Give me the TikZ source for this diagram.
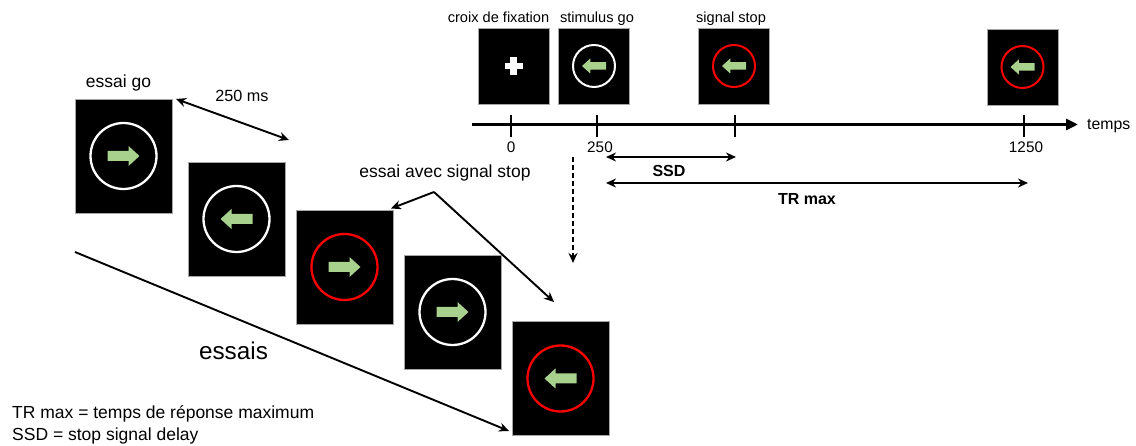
\documentclass[tikz,border=0pt]{standalone}
\usepackage{fontspec}
\setmainfont{Liberation Sans}
\usetikzlibrary{arrows.meta,calc}

\definecolor{arrowgreen}{RGB}{169,209,142}
\definecolor{stopred}{RGB}{250,0,0}

\tikzset{
  bigscreen/.style={fill=black, draw=black!35, line width=0.6pt, inner sep=0pt, minimum width=97pt, minimum height=114pt},
  smallscreen/.style={bigscreen, minimum width=71pt, minimum height=76pt},
  ring/.style={line width=2.3pt},
  pointer/.style={line width=1.9pt, -{Stealth[length=10pt,width=9pt]}},
  twoway/.style={line width=1.9pt, {Stealth[length=10pt,width=9pt]}-{Stealth[length=10pt,width=9pt]}},
  lbl/.style={font=\fontsize{17.5}{20}\selectfont, inner sep=0pt, anchor=base},
  smalllbl/.style={font=\fontsize{14.6}{17}\selectfont, inner sep=0pt, anchor=base},
  ticklbl/.style={font=\fontsize{15.3}{18}\selectfont, inner sep=0pt, anchor=base},
  boldlbl/.style={font=\fontsize{16}{19}\selectfont\bfseries, inner sep=0pt, anchor=base}
}

% green arrow pointing right, centred on the origin
\newcommand{\greenarrow}{(-16,-5) -- (5,-5) -- (5,-10) -- (16,0) -- (5,10) -- (5,5) -- (-16,5) -- cycle}

\begin{document}
\begin{tikzpicture}[x=1pt, y=-1pt]
\useasboundingbox (0,0) rectangle (1136,446);

% trials
\foreach \name/\pos/\ringcol/\dir in {e1/{(123.5,156)}/white/1, e2/{(236.5,219)}/white/-1, e3/{(344.5,267)}/stopred/1, e4/{(452.5,312)}/white/1, e5/{(560.5,378.5)}/stopred/-1}{
    \node[bigscreen] (\name) at \pos {};
    \draw[ring, \ringcol] (\name.center) circle[radius=33pt];
    \fill[arrowgreen, shift={(\name.center)}, xscale=\dir] \greenarrow;
}

% time line screens
\node[smallscreen] (fix) at (513.5,66) {};
\fill[white] ($(fix.center)+(-9,-3.3)$) rectangle ($(fix.center)+(9,3.3)$);
\fill[white] ($(fix.center)+(-3.3,-9)$) rectangle ($(fix.center)+(3.3,9)$);
\foreach \name/\pos/\ringcol in {go/{(594,66)}/white, stop/{(734,66)}/stopred, late/{(1022.5,67)}/stopred}{
    \node[smallscreen] (\name) at \pos {};
    \draw[ring, line width=2pt, \ringcol] (\name.center) circle[radius=21pt];
    \fill[arrowgreen, shift={(\name.center)}, xscale=-0.75, yscale=0.75] \greenarrow;
}

\node[smalllbl] (lfix) at (498.5,22.5) {croix de fixation};
\node[smalllbl] (lgo) at (597,22.5) {stimulus go};
\node[smalllbl] (lstop) at (731,22.5) {signal stop};

% axis
\coordinate (ax0) at (472,124.5);
\coordinate (ax1) at (1078,124.5);
\draw[line width=3.3pt, -{Triangle[length=12pt,width=11pt]}] (ax0) -- (ax1);
\node[font=\fontsize{15.8}{18}\selectfont, inner sep=0pt, anchor=base west] (temps) at (1087,130) {temps};
\foreach \x/\lab/\lx in {511/0/511, 597/250/600, 735//735, 1024/1250/1026}{
    \draw[line width=1.3pt] (\x,115) -- (\x,137);
    \node[ticklbl] (t\x) at (\lx,153) {\lab};
}

% delays
\coordinate (ssdA) at (606,157);
\coordinate (ssdB) at (736,157);
\coordinate (trA) at (606,183);
\coordinate (trB) at (1028,183);
\draw[twoway] (ssdA) -- (ssdB);
\draw[twoway] (trA) -- (trB);
\node[boldlbl] (ssd) at (669,177) {SSD};
\node[boldlbl] (trmax) at (807,205) {TR max};

\coordinate (dash0) at (573,157);
\coordinate (dash1) at (573,263);
\draw[pointer, line width=1.6pt, dash pattern=on 5pt off 3pt] (dash0) -- (dash1);

% trial labels
\node[lbl] (lgotrial) at (118.5,88) {essai go};
\node[font=\fontsize{16.2}{19}\selectfont, inner sep=0pt, anchor=base] (l250) at (242,101.5) {250 ms};
\coordinate (d0) at (176,99);
\coordinate (d1) at (289,140);
\draw[twoway] (d0) -- (d1);

\node[lbl] (lstoptrial) at (445,177.5) {essai avec signal stop};
\coordinate (apex) at (434,192);
\coordinate (toe3) at (391,208.5);
\coordinate (toe5) at (554,302);
\draw[pointer] (apex) -- (toe3);
\draw[pointer] (apex) -- (toe5);

\node[font=\fontsize{24.3}{28}\selectfont, inner sep=0pt, anchor=base] (lessais) at (233.5,360) {essais};
\coordinate (s0) at (75,252);
\coordinate (s1) at (509,431);
\draw[pointer] (s0) -- (s1);

% legend
\node[font=\fontsize{17.5}{20}\selectfont, inner sep=0pt, anchor=base west] (leg1) at (12,418.5) {TR max = temps de réponse maximum};
\node[font=\fontsize{17.5}{20}\selectfont, inner sep=0pt, anchor=base west] (leg2) at (12,441) {SSD = stop signal delay};
\end{tikzpicture}
\end{document}
